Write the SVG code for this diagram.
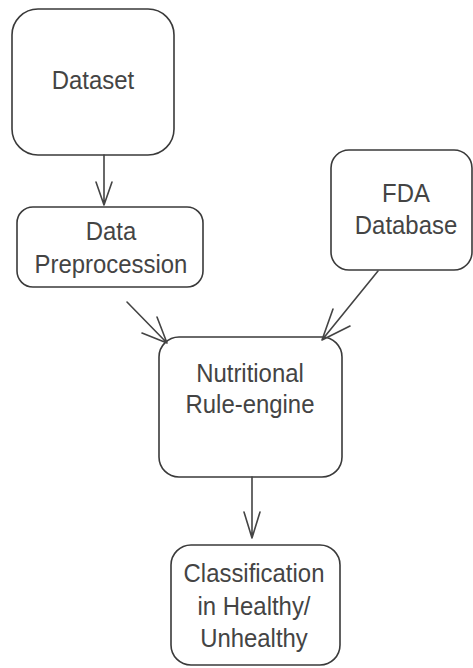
<svg xmlns="http://www.w3.org/2000/svg" width="473" height="668" viewBox="0 0 473 668">
<style>
.box{fill:#fff;stroke:#3a3a3a;stroke-width:1.6}
.t{font-family:"Liberation Sans",Arial,sans-serif;font-size:26px;fill:#444;text-anchor:middle}
.c{fill:none;stroke:#444;stroke-width:1.6;stroke-linecap:round;stroke-linejoin:round}
</style>
<rect width="473" height="668" fill="#fff"/>
<g id="dataset">
<rect class="box" x="12" y="9" width="162" height="146" rx="26"/>
<text class="t" transform="translate(93,89) scale(0.92,1)">Dataset</text>
</g>
<g id="preprocess">
<rect class="box" x="17" y="207" width="186" height="80" rx="16"/>
<text class="t" transform="translate(111,240) scale(0.92,1)">Data</text>
<text class="t" transform="translate(111,273) scale(0.92,1)">Preprocession</text>
</g>
<g id="fda">
<rect class="box" x="331" y="150" width="141" height="120" rx="18"/>
<text class="t" transform="translate(406,202) scale(0.92,1)">FDA</text>
<text class="t" transform="translate(406,234) scale(0.92,1)">Database</text>
</g>
<g id="engine">
<rect class="box" x="159" y="337" width="183" height="140" rx="20"/>
<text class="t" transform="translate(250,382) scale(0.92,1)">Nutritional</text>
<text class="t" transform="translate(250,413) scale(0.92,1)">Rule-engine</text>
</g>
<g id="classification">
<rect class="box" x="171" y="545" width="169" height="120" rx="20"/>
<text class="t" transform="translate(254,582) scale(0.92,1)">Classification</text>
<text class="t" transform="translate(254,615) scale(0.92,1)">in Healthy/</text>
<text class="t" transform="translate(254,647) scale(0.92,1)">Unhealthy</text>
</g>
<g id="connectors">
<path class="c" d="M104 155 L104 205 M96 182 L104 205 L112 182"/>
<path class="c" d="M127 302 L167 343 M157 317 L167 343 L142 333"/>
<path class="c" d="M378 271 L322 340 M333 309 L322 340 L350 326"/>
<path class="c" d="M252 477 L252 538 M244 512 L252 538 L260 512"/>
</g>
</svg>
